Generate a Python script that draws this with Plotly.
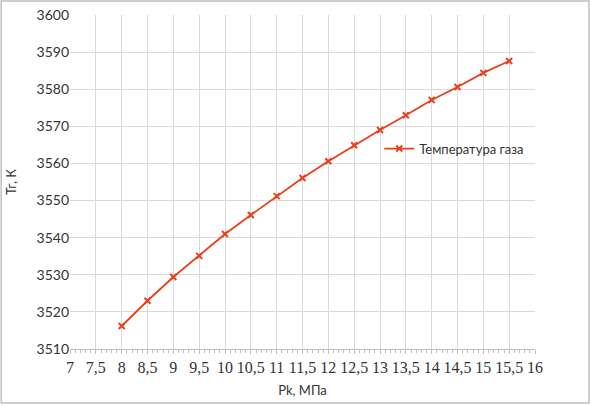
import plotly.graph_objects as go

# давление в камере, МПа
pk = [8, 8.5, 9, 9.5, 10, 10.5, 11, 11.5, 12, 12.5, 13, 13.5, 14, 14.5, 15, 15.5]
# температура газа, К
tg = [3516.2, 3523.0, 3529.4, 3535.1, 3541.0, 3546.1, 3551.2, 3556.1,
      3560.6, 3564.9, 3569.0, 3573.0, 3577.1, 3580.6, 3584.4, 3587.6]

x_ticks = [7 + 0.5 * i for i in range(19)]
x_labels = [f"{v:g}".replace(".", ",") for v in x_ticks]
y_ticks = list(range(3510, 3601, 10))

LINE_COLOR = "#e8401c"
GRID = "#d9d9d9"

fig = go.Figure()
fig.add_trace(go.Scatter(
    x=pk, y=tg, mode="lines+markers", name="Температура газа",
    line=dict(color=LINE_COLOR, width=1.8),
    marker=dict(symbol="x-thin", size=6, color=LINE_COLOR,
                line=dict(color=LINE_COLOR, width=2)),
))

fig.update_xaxes(
    range=[7, 16], tickvals=x_ticks, ticktext=x_labels, automargin=False,
    showgrid=True, gridcolor=GRID, gridwidth=1, zeroline=False,
    showline=True, linecolor="#bfbfbf", linewidth=1,
    ticks="outside", ticklen=4, tickcolor="#bfbfbf",
    minor=dict(dtick=0.1, ticks="outside", ticklen=3, tickcolor="#bfbfbf", showgrid=False),
    tickfont=dict(family="Liberation Serif", size=16, color="#333"),
    title=dict(text="Pk, МПа", font=dict(family="Lato", size=13, color="#333"), standoff=10),
)
fig.update_yaxes(
    range=[3510, 3600], tickvals=y_ticks, automargin=False,
    showgrid=True, gridcolor=GRID, gridwidth=1, zeroline=False,
    showline=False, ticks="",
    tickfont=dict(family="Lato", size=14, color="#333"),
    title=dict(text="Тг, К", font=dict(family="Lato", size=13, color="#333"), standoff=16),
)

# рамка вокруг диаграммы
fig.add_shape(type="rect", xref="paper", yref="paper",
              x0=-0.148, x1=1.116, y0=-0.162, y1=1.042,
              line=dict(color="#bfbfbf", width=1.5))

fig.update_layout(
    width=591, height=406,
    margin=dict(l=70, r=56, t=15, b=57),
    paper_bgcolor="white", plot_bgcolor="white",
    showlegend=True,
    legend=dict(x=0.665, y=0.60, xanchor="left", yanchor="middle",
                bgcolor="rgba(0,0,0,0)", font=dict(family="Lato", size=13, color="#333"),
                itemwidth=30),
)

# убрать отступ body, чтобы рисунок начинался с угла окна
fig.write_html("out.html", config={"displayModeBar": False},
               post_script="document.body.style.margin='0';")
